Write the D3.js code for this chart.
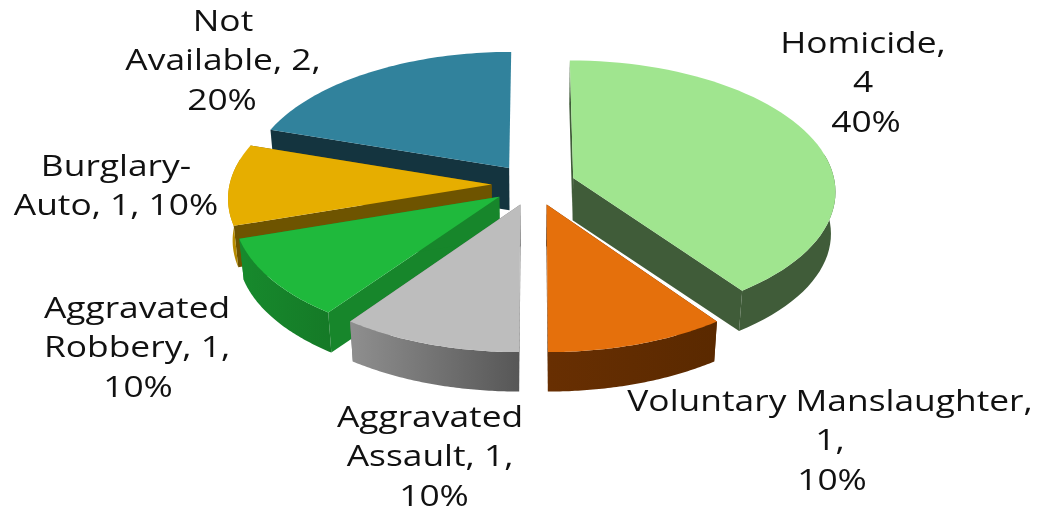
<!DOCTYPE html>
<html><head><meta charset="utf-8">
<script src="https://cdn.jsdelivr.net/npm/d3@7"></script>
<style>html,body{margin:0;background:#fff}svg{display:block;filter:blur(0.6px)}text{font-family:"Open Sans",sans-serif;font-size:29px;fill:#111;text-anchor:middle}</style>
</head><body><svg id="c" width="1037" height="512"></svg>
<script>
const categories=["Homicide","Voluntary Manslaughter","Aggravated Assault","Aggravated Robbery","Burglary-Auto","Not Available"];
const values=[4,1,1,1,1,2];
const topColors=["#a0e58f","#e5700c","#bdbdbd","#1fb93c","#e6ae00","#31829c"];
const wallColors=["#405c39","#5c2a00","#6f6f6f","#17862b","#6e5400","#14343f"];
const rimLeft=["#405c39","#682f02","#8f8f8f","#178a2d","#c89800","#14343f"];
const rimRight=["#405c39","#5a2900","#575757","#157a27","#a88000","#14343f"];
const drawOrder=[5,0,4,3,2,1];
const labelLines=[["Homicide,","4","40%"],["Voluntary Manslaughter,","1,","10%"],["Aggravated","Assault, 1,","10%"],["Aggravated","Robbery, 1,","10%"],["Burglary-","Auto, 1, 10%"],["Not","Available, 2,","20%"]];
const labelX=[863,830,430,137,116,223];
const labelY=[53,411,427,318,176,31];
const lastLineShift=[3,2,4,1,0,-1];

const svg=d3.select("#c"),defs=svg.append("defs");
const cx=533.5,cy=184.5,Rx=262,Ry=129.8,D=10.7,H=42,shrink=0.985,explode=0.16,textStretch=1.22;
const pie=d3.pie().sort(null).value(d=>d)(values);
function proj(X,Y,low){
  const s=D/(D-Y),k=low?shrink:1;
  return [cx+Rx*X*s*k, cy+Ry*Y*s*k+(low?H:0)];
}
function ptXY(a,r,ox,oy){return [ox+r*Math.sin(a),oy-r*Math.cos(a)];}
const line=d3.line();
drawOrder.forEach(i=>{
  const p=pie[i],mid=(p.startAngle+p.endAngle)/2;
  const ox=explode*Math.sin(mid),oy=-explode*Math.cos(mid);
  const steps=d3.range(0,61).map(t=>p.startAngle+(p.endAngle-p.startAngle)*t/60);
  const rim=steps.map(a=>ptXY(a,1,ox,oy));
  const apexT=proj(ox,oy,false),apexB=proj(ox,oy,true);
  const g=svg.append("g");
  // radial walls; the one closing the circle at 12 o'clock faces away
  const ends=p.endAngle>=2*Math.PI-1e-6?[rim[0]]:[rim[0],rim[60]];
  ends.forEach(q=>{
    g.append("path").attr("fill",wallColors[i]).attr("d",line([apexT,proj(q[0],q[1],false),proj(q[0],q[1],true),apexB])+"Z");
  });
  // outer wall: only the part of the rim that faces the viewer
  const topRim=rim.map(q=>proj(q[0],q[1],false));
  const front=rim.filter((q,k)=>Math.cos(steps[k])<0.2);
  if(front.length>1){
    const upper=front.map(q=>proj(q[0],q[1],false)),lower=front.map(q=>proj(q[0],q[1],true));
    const gid="rim"+i;
    const x0=d3.min(upper,d=>d[0]),x1=d3.max(upper,d=>d[0]);
    const lg=defs.append("linearGradient").attr("id",gid).attr("gradientUnits","userSpaceOnUse").attr("x1",x0).attr("x2",x1).attr("y1",0).attr("y2",0);
    lg.append("stop").attr("offset",0).attr("stop-color",rimLeft[i]);
    lg.append("stop").attr("offset",1).attr("stop-color",rimRight[i]);
    g.append("path").attr("fill",`url(#${gid})`).attr("d",line(upper.concat(lower.slice().reverse()))+"Z");
  }
  // top
  g.append("path").attr("fill",topColors[i]).attr("d",line([apexT].concat(topRim))+"Z");
});
labelLines.forEach((ls,i)=>{
  ls.forEach((t,j)=>{
    const dx=(j===ls.length-1&&ls.length===3)?lastLineShift[i]:0;
    svg.append("text").attr("transform",`translate(${labelX[i]+dx},${labelY[i]+j*39.3}) scale(${textStretch},1)`).text(t);
  });
});
svg.append("text").attr("transform",`translate(470,-7) scale(${textStretch},1)`).text("Burglary, 1,");
</script></body></html>
